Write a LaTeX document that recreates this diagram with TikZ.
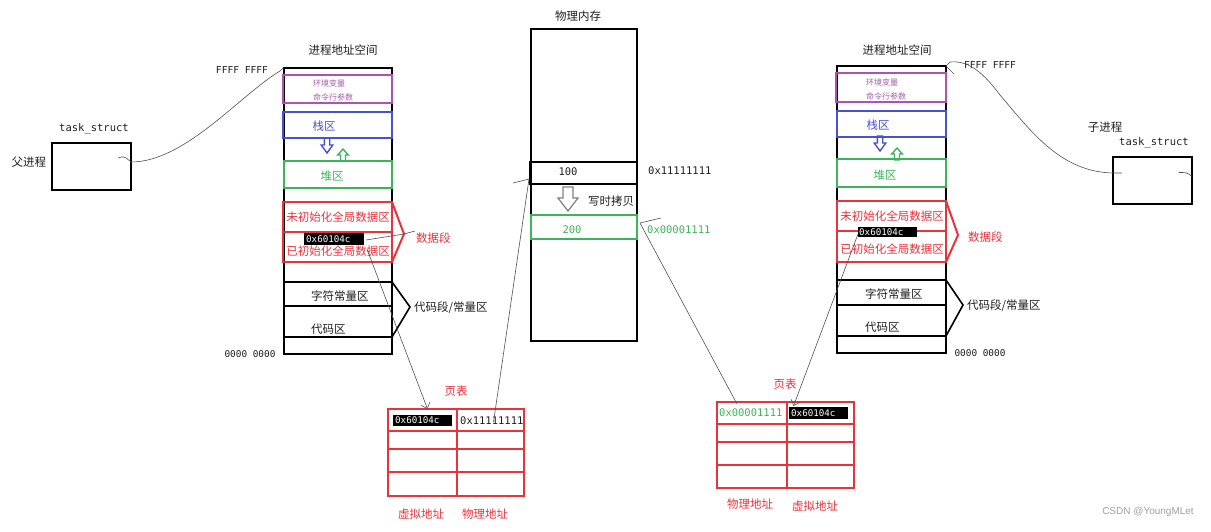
\documentclass[tikz,border=0pt]{standalone}
\usepackage{fontspec}
\setmainfont{Noto Sans CJK SC}
\newfontfamily\monof{DejaVu Sans Mono}
\newfontfamily\wmf{Liberation Sans}
\usetikzlibrary{arrows.meta,calc}
\definecolor{txt}{HTML}{1E1E1E}
\definecolor{pur}{HTML}{B050B0}
\definecolor{purt}{HTML}{A45AA8}
\definecolor{blu}{HTML}{4652D2}
\definecolor{grn}{HTML}{3CB45A}
\definecolor{redc}{HTML}{E8323C}
\definecolor{connc}{HTML}{505050}
\begin{document}
\begin{tikzpicture}[x=1pt,y=-1pt,
  box/.style={draw, anchor=north west, inner sep=0pt, outer sep=0pt, line width=1.4pt},
  cell/.style={anchor=north west, inner sep=0pt, outer sep=0pt},
  cn/.style={font=\fontsize{11.5}{13}\selectfont, text=txt, inner sep=0pt},
  cns/.style={font=\fontsize{8}{9}\selectfont, text=purt, inner sep=0pt, anchor=west},
  mono/.style={font=\monof\fontsize{10.5}{12}\selectfont, text=txt, inner sep=0pt},
  lab/.style={fill=black, anchor=north west, inner sep=0pt, outer sep=0pt},
  labt/.style={font=\monof\fontsize{9.2}{10}\selectfont, text=white, inner sep=0pt, anchor=west},
  conn/.style={draw=connc, line width=0.6pt},
  barb/.style={-{Straight Barb[length=5pt,width=9pt]}},
  hdown/.pic={\draw[pic actions] (-2.7,0)--(2.7,0)--(2.7,7)--(5.8,7)--(0,15)--(-5.8,7)--(-2.7,7)--cycle;},
  hup/.pic={\draw[pic actions] (-2.5,12)--(2.5,12)--(2.5,6)--(5.3,6)--(0,0)--(-5.3,6)--(-2.5,6)--cycle;}
]
\useasboundingbox (0,0) rectangle (1211,531);

% ---------------- left process address space ----------------
\node[cn] (ltitle) at (343,50) {进程地址空间};
\node[box, minimum width=108pt, minimum height=286pt] (lspace) at (284,68) {};
\node[box, draw=pur, line width=1.2pt, minimum width=109pt, minimum height=28pt] (lenv) at (283,75) {};
\node[cns] (lenv1) at (313,83) {环境变量};
\node[cns] (lenv2) at (313,97) {命令行参数};
\node[box, draw=blu, minimum width=109pt, minimum height=26pt] (lstack) at (283,112) {};
\node[cn, text=blu] (lstackt) at (324,126) {栈区};
\pic[draw=blu, line width=1.4pt] at (327,138) {hdown};
\pic[draw=grn, line width=1.4pt] at (343,149) {hup};
\node[box, draw=grn, minimum width=108pt, minimum height=27pt] (lheap) at (284,161) {};
\node[cn, text=grn] (lheapt) at (332,176) {堆区};
\node[box, draw=redc, line width=2pt, minimum width=109pt, minimum height=30pt] (ldata1) at (283,202) {};
\node[box, draw=redc, line width=2pt, minimum width=109pt, minimum height=30pt] (ldata2) at (283,232) {};
\node[cn, text=redc] (ldata1t) at (338,217) {未初始化全局数据区};
\node[cn, text=redc] (ldata2t) at (338,251) {已初始化全局数据区};
\coordinate (ldtip) at (404,234);
\draw[draw=redc, line width=2pt] (ldata1.north east) -- (ldtip) -- (ldata2.south east);
\node[cn, text=redc, anchor=west] (ldseg) at (416,238) {数据段};
\node[lab, minimum width=60pt, minimum height=12pt] (llab) at (304,233) {};
\node[labt] (llabt) at (306,239) {0x60104c};
\node[box, minimum width=108pt, minimum height=24pt] (lconst) at (284,282) {};
\node[box, minimum width=108pt, minimum height=31pt] (lcode) at (284,306) {};
\node[cn, anchor=west] (lconstt) at (311,296) {字符常量区};
\node[cn, anchor=west] (lcodet) at (311,329) {代码区};
\coordinate (lctip) at (410,307);
\draw[line width=1.6pt] (lconst.north east) -- (lctip) -- (lcode.south east);
\node[cn, anchor=west] (lcseg) at (414,308) {代码段/常量区};
\node[mono, font=\monof\fontsize{9.4}{11}\selectfont] (lzero) at (250,354) {0000 0000};
\node[mono, font=\monof\fontsize{9.6}{11}\selectfont] (lffff) at (242,70) {FFFF FFFF};

% ---------------- physical memory ----------------
\node[cn] (ptitle) at (578,16) {物理内存};
\node[box, minimum width=106pt, minimum height=312pt] (pmem) at (531,29) {};
\node[box, line width=2pt, minimum width=107pt, minimum height=22pt] (p100) at (530,162) {};
\node[mono] (p100t) at (568,172) {100};
\draw[draw=gray, line width=1.2pt] (563,187)--(573,187)--(573,198)--(578,198)--(568,211)--(558,198)--(563,198)--cycle;
\node[cn, anchor=west] (cow) at (588,201) {写时拷贝};
\node[box, draw=grn, minimum width=106pt, minimum height=24pt] (p200) at (531,215) {};
\node[mono, text=grn] (p200t) at (572,230) {200};
\node[mono, anchor=west] (paddr1) at (648,171) {0x11111111};
\node[mono, anchor=west, text=grn] (paddr2) at (647,230) {0x00001111};

% ---------------- right process address space ----------------
\node[cn] (rtitle) at (897,50) {进程地址空间};
\node[box, minimum width=109pt, minimum height=287pt] (rspace) at (837,66) {};
\node[box, draw=pur, line width=1.2pt, minimum width=110pt, minimum height=29pt] (renv) at (836,73) {};
\node[cns] (renv1) at (866,82) {环境变量};
\node[cns] (renv2) at (866,96) {命令行参数};
\node[box, draw=blu, minimum width=109pt, minimum height=26pt] (rstack) at (837,111) {};
\node[cn, text=blu] (rstackt) at (878,125) {栈区};
\pic[draw=blu, line width=1.4pt] at (880,136) {hdown};
\pic[draw=grn, line width=1.4pt] at (897,148) {hup};
\node[box, draw=grn, minimum width=109pt, minimum height=28pt] (rheap) at (837,159) {};
\node[cn, text=grn] (rheapt) at (885,175) {堆区};
\node[box, draw=redc, line width=2pt, minimum width=109pt, minimum height=30pt] (rdata1) at (837,201) {};
\node[box, draw=redc, line width=2pt, minimum width=109pt, minimum height=31pt] (rdata2) at (837,231) {};
\node[cn, text=redc] (rdata1t) at (892,216) {未初始化全局数据区};
\node[cn, text=redc] (rdata2t) at (892,249) {已初始化全局数据区};
\coordinate (rdtip) at (958,235);
\draw[draw=redc, line width=2pt] (rdata1.north east) -- (rdtip) -- (rdata2.south east);
\node[cn, text=redc, anchor=west] (rdseg) at (968,237) {数据段};
\node[lab, minimum width=59pt, minimum height=10pt] (rlab) at (858,227) {};
\node[labt] (rlabt) at (859,232) {0x60104c};
\node[box, minimum width=109pt, minimum height=25pt] (rconst) at (837,280) {};
\node[box, minimum width=109pt, minimum height=31pt] (rcode) at (837,305) {};
\node[cn, anchor=west] (rconstt) at (865,294) {字符常量区};
\node[cn, anchor=west] (rcodet) at (865,327) {代码区};
\coordinate (rctip) at (963,305);
\draw[line width=1.6pt] (rconst.north east) -- (rctip) -- (rcode.south east);
\node[cn, anchor=west] (rcseg) at (967,306) {代码段/常量区};
\node[mono, font=\monof\fontsize{9.4}{11}\selectfont] (rzero) at (980,353) {0000 0000};
\node[mono, font=\monof\fontsize{9.6}{11}\selectfont] (rffff) at (990,65) {FFFF FFFF};

% ---------------- task_structs ----------------
\node[box, minimum width=79pt, minimum height=47pt] (ltask) at (52,143) {};
\node[mono] (ltaskt) at (94,129) {task\_struct};
\node[cn] (lparent) at (29,162) {父进程};
\node[box, minimum width=79pt, minimum height=47pt] (rtask) at (1113,157) {};
\node[mono] (rtaskt) at (1154,143) {task\_struct};
\node[cn] (rchild) at (1105,127) {子进程};

% ---------------- page tables ----------------
\node[cn, text=redc] (lpt) at (456,391) {页表};
\node[box, draw=redc, line width=2.5pt, minimum width=136pt, minimum height=87pt] (ltab) at (388,409) {};
\draw[draw=redc, line width=1.2pt] (457,409) -- (457,496);
\foreach \yy in {431,449,472} \draw[draw=redc, line width=1.2pt] (388,\yy) -- (524,\yy);
\node[cell, minimum width=69pt, minimum height=22pt] (lt11) at (388,409) {};
\node[cell, minimum width=67pt, minimum height=22pt] (lt12) at (457,409) {};
\node[lab, minimum width=59pt, minimum height=11pt] (ltlab) at (393,415) {};
\node[labt] (ltlabt) at (395,420.5) {0x60104c};
\node[mono, anchor=west] (ltphys) at (460,421) {0x11111111};
\node[cn, text=redc] (lvirt) at (421,514) {虚拟地址};
\node[cn, text=redc] (lphys) at (485,514) {物理地址};

\node[cn, text=redc] (rpt) at (785,384) {页表};
\node[box, draw=redc, line width=2.5pt, minimum width=137pt, minimum height=86pt] (rtab) at (717,402) {};
\draw[draw=redc, line width=1.2pt] (787,402) -- (787,488);
\foreach \yy in {424,442,465} \draw[draw=redc, line width=1.2pt] (717,\yy) -- (854,\yy);
\node[cell, minimum width=70pt, minimum height=22pt] (rt11) at (717,402) {};
\node[cell, minimum width=67pt, minimum height=22pt] (rt12) at (787,402) {};
\node[mono, anchor=west, text=grn] (rtphys) at (719,413) {0x00001111};
\node[lab, minimum width=59pt, minimum height=12pt] (rtlab) at (789,407) {};
\node[labt] (rtlabt) at (791,413) {0x60104c};
\node[cn, text=redc] (rphys) at (750,504) {物理地址};
\node[cn, text=redc] (rvirt) at (815,506) {虚拟地址};

% ---------------- connectors ----------------
\coordinate (lts) at (118,158);
\coordinate (lff) at (280,71);
\draw[conn] (lts) .. controls (124,156) .. (ltask.east |- 0,162)
  .. controls (185,162) and (240,95) .. (lff);
\draw[conn] (lff) .. controls (283,68) .. (lspace.north west);
\coordinate (rts) at (1122,173);
\coordinate (rff) at (950,62);
\draw[conn] (rts) -- (rtask.west |- 0,173) .. controls (1060,172) and (1030,130) .. (1000,95)
  .. controls (985,75) and (970,60) .. (rff) -- (rspace.north east);
\draw[conn] (rspace.north east) -- ($(rspace.north east)+(8,8)$);
\draw[conn] ($(rtask.east)+(-13,-8)$) .. controls ($(rtask.east)+(-5,-8)$) .. ($(rtask.east)+(0,-4)$);

\draw[conn] ($(llab.east)+(2,1)$) -- (ldtip);
\draw[conn] (ldtip) -- ($(ldtip)+(11,-3)$);
\draw[conn, barb] ($(llab.south east)+(3,4)$) -- ($(lt11.north)+(5,0)$);
\coordinate (pl100) at ($(p100.south west)+(-1,-5)$);
\draw[conn] ($(lt12.center)+(3,2)$) -- (pl100);
\draw[conn] ($(pl100)+(-16,4)$) -- (pl100);
\coordinate (pr200) at ($(p200.north east)+(3,8)$);
\draw[conn] (pr200) -- ($(rt11.north)+(-15,2)$);
\draw[conn] (pr200) -- ($(pr200)+(21,-5)$);
\draw[conn, barb] ($(rlab.south west)+(0,-3)$) -- ($(rt12.north)+(-27,4)$);

% watermark
\node[font=\wmf\fontsize{10}{12}\selectfont, text=gray!75, inner sep=0pt] (wm) at (1148,512) {CSDN @YoungMLet};
\end{tikzpicture}
\end{document}
